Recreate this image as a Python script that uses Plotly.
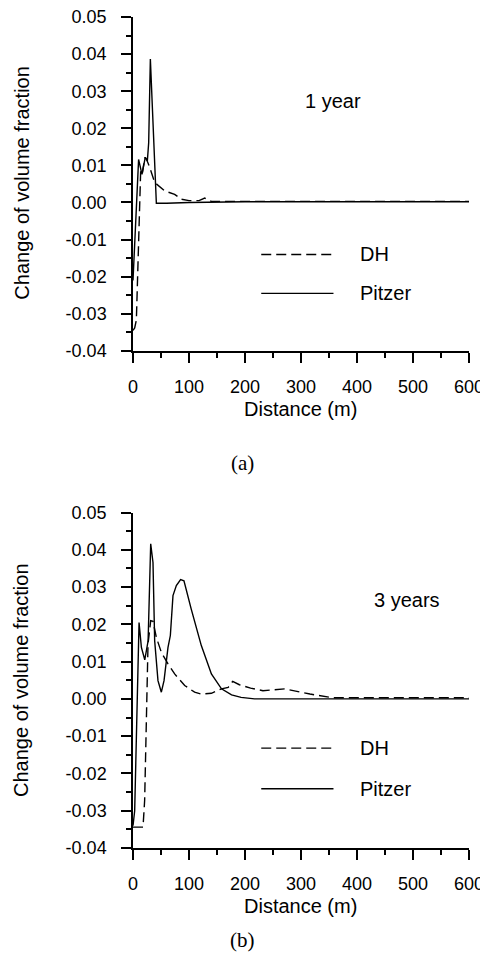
import plotly.graph_objects as go

# ---------------- data ----------------
# Panel (a): 1 year
top_dh_x = [0, 3, 6, 13.7, 16.4, 21, 24, 30, 38.7, 56.6, 74.4, 86, 100, 118, 128, 140, 160, 200, 300, 400, 500, 600]
top_dh_y = [-0.0345, -0.0338, -0.0317, 0.0085, 0.0076, 0.0121, 0.0117, 0.0094, 0.0054, 0.0031, 0.0022, 0.0009,
            0.0005, 0.0005, 0.0012, 0.0003, 0.0003, 0.0003, 0.0003, 0.0003, 0.0003, 0.0003]
top_pz_x = [0, 10, 16, 22, 25.6, 28, 31, 41.7, 60, 100, 200, 300, 400, 500, 600]
top_pz_y = [-0.021, 0.0116, 0.0076, 0.0122, 0.0112, 0.0161, 0.0387, -0.0002, -0.0002, 0.0, 0.0002, 0.0002,
            0.0002, 0.0002, 0.0002]

# Panel (b): 3 years
bot_dh_x = [0, 17.9, 20.8, 23.8, 26.8, 31.6, 35.7, 41.7, 50.6, 62.5, 74.4, 92.3, 110, 122, 140, 158, 170, 178,
            190, 210, 232, 271, 316, 357, 400, 500, 600]
bot_dh_y = [-0.0344, -0.0344, -0.0272, -0.0049, 0.0147, 0.0210, 0.0208, 0.0165, 0.0125, 0.0094, 0.0067, 0.0036,
            0.0018, 0.0013, 0.0015, 0.0027, 0.0031, 0.0047, 0.0038, 0.0029, 0.0022, 0.0027, 0.0013, 0.0003,
            0.0003, 0.0003, 0.0003]
bot_pz_x = [0, 3, 10.8, 15, 21, 27, 31.6, 35.7, 38.7, 44.6, 50.6, 55.4, 62.5, 66.7, 71.4, 77.4, 85, 91, 104,
            122, 140, 158, 176, 193, 217, 300, 400, 500, 600]
bot_pz_y = [-0.034, -0.030, 0.0205, 0.0138, 0.0105, 0.0156, 0.0416, 0.0366, 0.0156, 0.0049, 0.0018, 0.0049,
            0.0138, 0.0170, 0.0277, 0.0304, 0.0320, 0.0317, 0.0241, 0.0143, 0.0067, 0.0027, 0.0011, 0.0004,
            0.0, 0.0, 0.0, 0.0, 0.0]

x_tickvals = [0, 100, 200, 300, 400, 500, 600]
x_ticktext = ["0", "100", "200", "300", "400", "500", "600"]
y_tickvals = [0.05, 0.04, 0.03, 0.02, 0.01, 0.0, -0.01, -0.02, -0.03, -0.04]
y_ticktext = ["0.05", "0.04", "0.03", "0.02", "0.01", "0.00", "-0.01", "-0.02", "-0.03", "-0.04"]

series_names = ["DH", "Pitzer"]
panel_labels = ["1 year", "3 years"]
panel_tags = ["(a)", "(b)"]

# ---------------- figure ----------------
FONT = "Liberation Sans, Arial, sans-serif"
FS_TICK = 18
FS = 20
dash_style = "10px,5px"

OFF = 8  # page body margin around the plot div
W, H = 488 - OFF, 974 - OFF
# plot area in page pixel coordinates
PX0, PX1 = 133.3, 469.3
PY0, PY1 = 17.0, 848.3
ML, MR, MT, MB = PX0 - OFF, W - (PX1 - OFF), PY0 - OFF, H - (PY1 - OFF)
PH = PY1 - PY0
PW = PX1 - PX0


def py2paper(py):
    return (PY1 - py) / PH


def px2paper(px):
    return (px - PX0) / PW


fig = go.Figure()
fig.add_trace(go.Scatter(x=top_dh_x, y=top_dh_y, mode="lines", line=dict(color="black", width=1.4, dash=dash_style),
                         xaxis="x", yaxis="y", showlegend=False))
fig.add_trace(go.Scatter(x=top_pz_x, y=top_pz_y, mode="lines", line=dict(color="black", width=1.4),
                         xaxis="x", yaxis="y", showlegend=False))
fig.add_trace(go.Scatter(x=bot_dh_x, y=bot_dh_y, mode="lines", line=dict(color="black", width=1.4, dash=dash_style),
                         xaxis="x2", yaxis="y2", showlegend=False))
fig.add_trace(go.Scatter(x=bot_pz_x, y=bot_pz_y, mode="lines", line=dict(color="black", width=1.4),
                         xaxis="x2", yaxis="y2", showlegend=False))


def xax(anchor):
    return dict(range=[0, 600], tickvals=x_tickvals, ticktext=x_ticktext, anchor=anchor, automargin=False,
                ticklabeloverflow="allow",
                showline=True, linecolor="black", linewidth=1.5, showgrid=False, zeroline=False,
                ticks="outside", ticklen=10, tickwidth=1.5, tickcolor="black", ticklabelstandoff=9,
                minor=dict(dtick=50, tick0=0, ticks="outside", ticklen=5, tickwidth=1.5, tickcolor="black", showgrid=False),
                tickfont=dict(family=FONT, size=FS_TICK, color="black"))


def yax(anchor, domain):
    return dict(range=[-0.04, 0.05], domain=domain, tickvals=y_tickvals, ticktext=y_ticktext, anchor=anchor,
                automargin=False, ticklabeloverflow="allow",
                showline=True, linecolor="black", linewidth=1.5, showgrid=False, zeroline=False,
                ticks="outside", ticklen=10, tickwidth=1.5, tickcolor="black", ticklabelstandoff=11,
                minor=dict(dtick=0.005, tick0=0, ticks="outside", ticklen=5, tickwidth=1.5, tickcolor="black", showgrid=False),
                tickfont=dict(family=FONT, size=FS_TICK, color="black"))


fig.update_layout(
    width=W, height=H,
    margin=dict(l=ML, r=MR, t=MT, b=MB, pad=0),
    paper_bgcolor="white", plot_bgcolor="white",
    xaxis=xax("y"), yaxis=yax("x", [py2paper(351), 1.0]),
    xaxis2=xax("y2"), yaxis2=yax("x2", [0.0, py2paper(512.7)]),
)

anns = []
shapes = []
panels = [
    dict(xr="x", yr="y", ycen=py2paper(183), xtitle_y=py2paper(409), lab_x=303, lab_y=0.0273,
         leg_y=[-0.0140, -0.0245]),
    dict(xr="x2", yr="y2", ycen=py2paper(680.5), xtitle_y=py2paper(906), lab_x=426, lab_y=0.0264,
         leg_y=[-0.0132, -0.0241]),
]
for i, p in enumerate(panels):
    anns.append(dict(text="Change of volume fraction", xref="paper", yref="paper", x=px2paper(22), y=p["ycen"],
                     textangle=-90, showarrow=False, xanchor="center", yanchor="middle",
                     font=dict(family=FONT, size=FS, color="black")))
    anns.append(dict(text="Distance (m)", xref="paper", yref="paper", x=px2paper(301), y=p["xtitle_y"],
                     showarrow=False, xanchor="center", yanchor="middle",
                     font=dict(family=FONT, size=FS, color="black")))
    anns.append(dict(text=panel_labels[i], xref=p["xr"], yref=p["yr"], x=p["lab_x"], y=p["lab_y"], showarrow=False,
                     xanchor="left", yanchor="middle", font=dict(family=FONT, size=FS, color="black")))
    for j, (name, ly) in enumerate(zip(series_names, p["leg_y"])):
        shapes.append(dict(type="line", xref=p["xr"], yref=p["yr"], x0=229, x1=358, y0=ly, y1=ly,
                           line=dict(color="black", width=1.4, dash=dash_style if j == 0 else "solid")))
        anns.append(dict(text=name, xref=p["xr"], yref=p["yr"], x=401, y=ly, showarrow=False, xanchor="left",
                         yanchor="middle", font=dict(family=FONT, size=FS, color="black")))

for tag, ty in zip(panel_tags, [463, 940]):
    anns.append(dict(text=tag, xref="paper", yref="paper", x=px2paper(243), y=py2paper(ty),
                     showarrow=False, xanchor="center", yanchor="middle",
                     font=dict(family="Liberation Serif, Times New Roman, serif", size=21, color="black")))

fig.update_layout(annotations=anns, shapes=shapes)
fig.write_html("out.html")
